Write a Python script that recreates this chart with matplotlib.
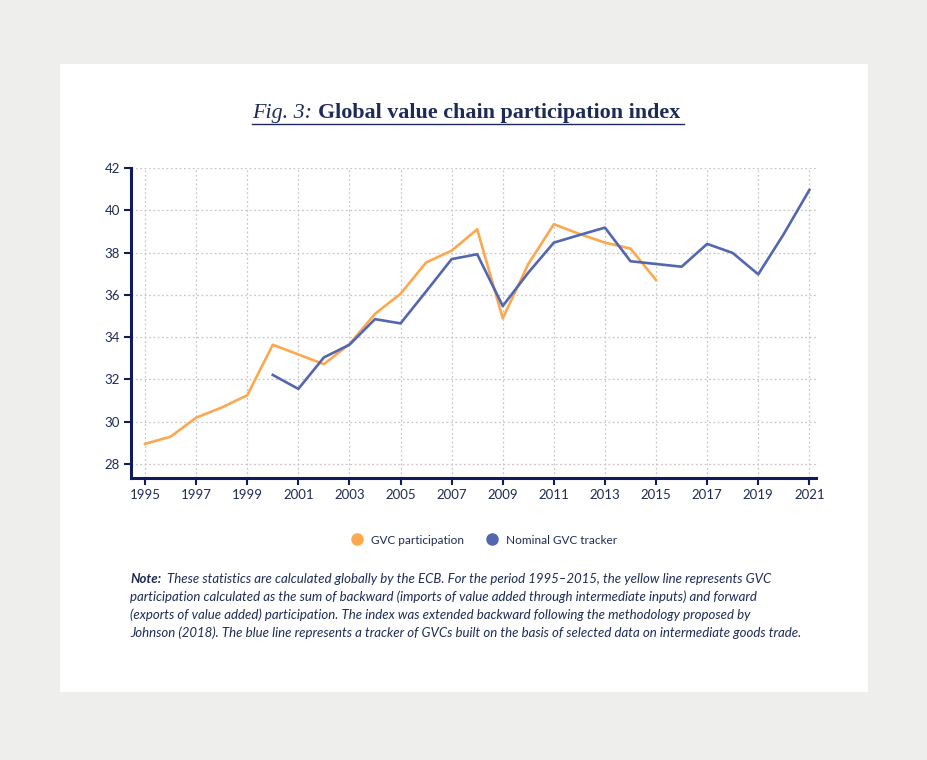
import numpy as np
import matplotlib.pyplot as plt
from matplotlib.patches import Rectangle
from matplotlib.lines import Line2D

# Data
years_gvc = [1995, 1996, 1997, 1998, 1999, 2000, 2001, 2002, 2003, 2004, 2005,
             2006, 2007, 2008, 2009, 2010, 2011, 2012, 2013, 2014, 2015]
gvc_participation = [28.95, 29.29, 30.19, 30.67, 31.25, 33.64, 33.18, 32.72, 33.67, 35.10, 36.05,
                     37.53, 38.09, 39.10, 34.89, 37.46, 39.34, 38.88, 38.47, 38.19, 36.70]

years_tracker = [2000, 2001, 2002, 2003, 2004, 2005, 2006, 2007, 2008, 2009, 2010,
                 2011, 2012, 2013, 2014, 2015, 2016, 2017, 2018, 2019, 2020, 2021]
gvc_tracker = [32.21, 31.55, 33.04, 33.64, 34.85, 34.65, 36.16, 37.69, 37.92, 35.47, 37.05,
               38.47, 38.83, 39.18, 37.59, 37.46, 37.33, 38.41, 37.98, 36.97, 38.88, 40.96]

x_ticks = list(range(1995, 2022, 2))
y_ticks = list(range(28, 43, 2))

navy = "#101c5a"
text_navy = "#1e2b57"
orange = "#fba84f"
blue = "#5366b0"
grid_col = "#c8c8c8"

W, H = 928, 760
fig = plt.figure(figsize=(W / 100, H / 100), dpi=100)
fig.patch.set_facecolor("#eeeeec")

# white panel behind everything
fig.patches.append(Rectangle((60 / W, 1 - 692 / H), 808 / W, 628 / H,
                             transform=fig.transFigure, facecolor="white",
                             edgecolor="none", zorder=-5))

ax = fig.add_axes([131 / W, 1 - 477.7 / H, 685 / W, 309.7 / H])
ax.set_facecolor("none")

ax.plot(years_gvc, gvc_participation, color=orange, lw=1.9, label="GVC participation", zorder=3)
ax.plot(years_tracker, gvc_tracker, color=blue, lw=1.9, label="Nominal GVC tracker", zorder=4)

ax.set_xlim(1994.45, 2021.26)
ax.set_ylim(27.35, 42.0)
ax.set_xticks(x_ticks)
ax.set_yticks(y_ticks)
ax.tick_params(axis="both", direction="out", length=5, width=1.5, color=navy,
               labelcolor=text_navy, labelsize=9.5, pad=3)
for lab in ax.get_xticklabels() + ax.get_yticklabels():
    lab.set_fontfamily("Lato")

ax.grid(True, color=grid_col, linestyle=(0, (1.5, 2)), lw=0.9)
ax.set_axisbelow(True)
for side in ["top", "right"]:
    ax.spines[side].set_visible(False)
for side in ["left", "bottom"]:
    ax.spines[side].set_color(navy)
    ax.spines[side].set_linewidth(2.2)

# legend with round markers
handles = [Line2D([], [], marker="o", linestyle="none", markersize=8,
                  markerfacecolor=orange, markeredgecolor=orange, label="GVC participation"),
           Line2D([], [], marker="o", linestyle="none", markersize=8,
                  markerfacecolor=blue, markeredgecolor=blue, label="Nominal GVC tracker")]
leg = fig.legend(handles=handles, loc="center", bbox_to_anchor=(481 / W, 1 - 540 / H),
                 ncol=2, frameon=False, handletextpad=0.2, columnspacing=1.4,
                 prop={"family": "Lato", "size": 8.5})
for t in leg.get_texts():
    t.set_color(text_navy)

# title: italic part + bold part, underlined
renderer = fig.canvas.get_renderer()
ty = 1 - 118 / H
t1 = fig.text(252 / W, ty, "Fig. 3:", fontsize=15.8, fontstyle="italic",
              family="Liberation Serif", color=text_navy, va="baseline")
bb = t1.get_window_extent(renderer)
t2 = fig.text((bb.x1 + 6) / W, ty, "Global value chain participation index", fontsize=15.8,
              fontweight="bold", family="Liberation Serif", color=text_navy, va="baseline")
bb2 = t2.get_window_extent(renderer)
fig.add_artist(Line2D([252 / W, (bb2.x1 + 4) / W], [1 - 124 / H, 1 - 124 / H],
                      transform=fig.transFigure, color=text_navy, lw=1))

# note
note_lines = [
    "These statistics are calculated globally by the ECB. For the period 1995\u20132015, the yellow line represents GVC",
    "participation calculated as the sum of backward (imports of value added through intermediate inputs) and forward",
    "(exports of value added) participation. The index was extended backward following the methodology proposed by",
    "Johnson (2018). The blue line represents a tracker of GVCs built on the basis of selected data on intermediate goods trade.",
]
note_fs = 9.5
n0 = fig.text(130 / W, 1 - 583 / H, "Note:", fontsize=note_fs, fontstyle="italic",
              fontweight="bold", family="Lato", color=text_navy, va="baseline")
nb = n0.get_window_extent(renderer)
for i, line in enumerate(note_lines):
    x0 = (nb.x1 + 6) / W if i == 0 else 130 / W
    fig.text(x0, 1 - (583 + 18 * i) / H, line, fontsize=note_fs, fontstyle="italic",
             family="Lato", color=text_navy, va="baseline")

fig.savefig("out.png", dpi=100, facecolor=fig.get_facecolor())
